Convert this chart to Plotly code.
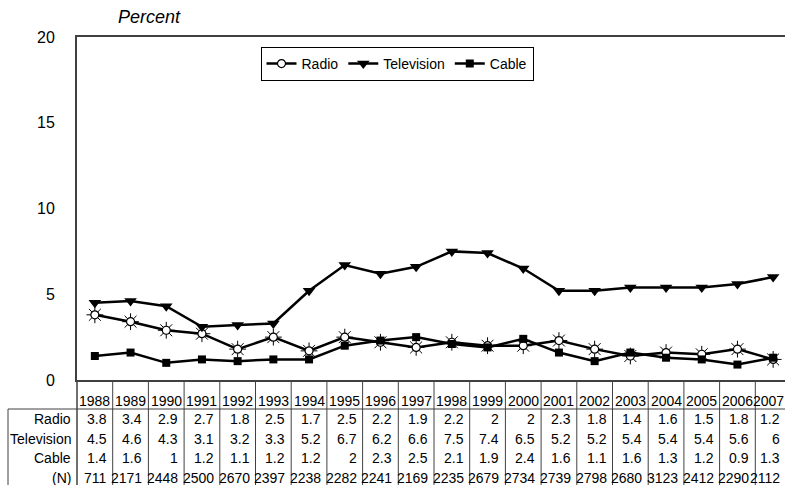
import plotly.graph_objects as go

# ---------------- data ----------------
years = [1988, 1989, 1990, 1991, 1992, 1993, 1994, 1995, 1996, 1997,
         1998, 1999, 2000, 2001, 2002, 2003, 2004, 2005, 2006, 2007]
radio = [3.8, 3.4, 2.9, 2.7, 1.8, 2.5, 1.7, 2.5, 2.2, 1.9,
         2.2, 2, 2, 2.3, 1.8, 1.4, 1.6, 1.5, 1.8, 1.2]
television = [4.5, 4.6, 4.3, 3.1, 3.2, 3.3, 5.2, 6.7, 6.2, 6.6,
              7.5, 7.4, 6.5, 5.2, 5.2, 5.4, 5.4, 5.4, 5.6, 6]
cable = [1.4, 1.6, 1, 1.2, 1.1, 1.2, 1.2, 2, 2.3, 2.5,
         2.1, 1.9, 2.4, 1.6, 1.1, 1.6, 1.3, 1.2, 0.9, 1.3]
n_values = [711, 2171, 2448, 2500, 2670, 2397, 2238, 2282, 2241, 2169,
            2235, 2679, 2734, 2739, 2798, 2680, 3123, 2412, 2290, 2112]
row_labels = ["Radio", "Television", "Cable", "(N)"]
y_ticks = [0, 5, 10, 15, 20]

# ---------------- layout constants (page pixels) ----------------
W, H = 785, 485
L, R, T, B = 77, 785, 37, 380   # plot area in page pixels
COLW = 35.7
FONT = "Liberation Sans, Arial, sans-serif"
LINE = "#404040"

x0 = years[0] - 0.5
x1 = x0 + (R - L) / COLW


def py(p):
    return (B - p) / (B - T)


def px(p):
    return (p - L) / (R - L)


fig = go.Figure()

# Radio rays (decoration under the circle marker)
fig.add_trace(go.Scatter(
    x=years, y=radio, mode="markers", showlegend=False, hoverinfo="skip",
    marker=dict(symbol="asterisk-open", size=14, color="black",
                line=dict(color="black", width=1)),
))
fig.add_trace(go.Scatter(
    x=years, y=radio, mode="lines+markers", name="Radio",
    line=dict(color="black", width=2.5),
    marker=dict(symbol="circle", size=8, color="white",
                line=dict(color="black", width=1.2)),
))
fig.add_trace(go.Scatter(
    x=years, y=television, mode="lines+markers", name="Television",
    line=dict(color="black", width=2.5),
    marker=dict(symbol="triangle-down", size=11, color="black"),
))
fig.add_trace(go.Scatter(
    x=years, y=cable, mode="lines+markers", name="Cable",
    line=dict(color="black", width=2.5),
    marker=dict(symbol="square", size=8, color="black"),
))

shapes = []
annotations = []

# table geometry (page pixels)
header_y = 401
header_line = 409
row_y = [419, 438.5, 458, 477.5]
table_bottom = 495
label_left = 8
pad = 4
year_text_half = 15.5

# vertical column lines
for yr in years:
    shapes.append(dict(type="line", xref="x", yref="paper",
                       x0=yr + 0.5, x1=yr + 0.5, y0=py(B), y1=py(table_bottom),
                       line=dict(color=LINE, width=1)))
shapes.append(dict(type="line", xref="paper", yref="paper",
                   x0=0, x1=0, y0=py(B), y1=py(table_bottom),
                   line=dict(color=LINE, width=1.5)))
# header bottom line
shapes.append(dict(type="line", xref="paper", yref="paper",
                   x0=px(label_left), x1=1, y0=py(header_line), y1=py(header_line),
                   line=dict(color=LINE, width=1)))
# label box left border
shapes.append(dict(type="line", xref="paper", yref="paper",
                   x0=px(label_left), x1=px(label_left),
                   y0=py(header_line), y1=py(table_bottom),
                   line=dict(color=LINE, width=1)))

# header years
for yr in years:
    center_px = L + (yr - x0) * COLW
    hshift = min(0, (W - 1 - year_text_half) - center_px)
    annotations.append(dict(x=yr, y=py(header_y), xref="x", yref="paper",
                            text=str(yr), showarrow=False, xanchor="center",
                            xshift=hshift, yanchor="middle",
                            font=dict(size=14, color="black", family=FONT)))

# row labels and values
rows = [radio, television, cable, n_values]
for lab, vals, ry in zip(row_labels, rows, row_y):
    annotations.append(dict(x=px(73), y=py(ry), xref="paper", yref="paper",
                            text=lab, showarrow=False, xanchor="right", yanchor="middle",
                            font=dict(size=14, color="black", family=FONT)))
    for yr, v in zip(years, vals):
        center_px = L + (yr - x0) * COLW
        shift = min(COLW / 2 - pad, (W - 3) - center_px)
        annotations.append(dict(x=yr, y=py(ry), xref="x", yref="paper",
                                text=f"{v:g}", showarrow=False, xanchor="right",
                                xshift=shift, yanchor="middle",
                                font=dict(size=14, color="black", family=FONT)))

# axis title
annotations.append(dict(x=px(116), y=py(17), xref="paper", yref="paper",
                        text="<i>Percent</i>", showarrow=False, xanchor="left",
                        yanchor="middle", font=dict(size=18, color="black", family=FONT)))

fig.update_layout(
    width=W, height=H,
    margin=dict(l=L, r=W - R, t=T, b=H - B, autoexpand=False),
    paper_bgcolor="white", plot_bgcolor="white",
    font=dict(family=FONT, color="black"),
    showlegend=True,
    legend=dict(orientation="h", x=px(397), xanchor="center", y=py(47), yanchor="top",
                bordercolor="black", borderwidth=1, bgcolor="white",
                font=dict(size=14, color="black", family=FONT),
                itemwidth=30, tracegroupgap=0),
    xaxis=dict(range=[x0, x1], showgrid=False, zeroline=False, showticklabels=False,
               ticks="", showline=True, linecolor=LINE, linewidth=2, mirror=True,
               fixedrange=True),
    yaxis=dict(range=[0, 20], tickvals=y_ticks, showgrid=False, zeroline=False,
               ticks="", showline=True, linecolor=LINE, linewidth=2,
               ticklabelstandoff=17,
               tickfont=dict(size=16, color="black", family=FONT), fixedrange=True),
    shapes=shapes,
    annotations=annotations,
)

fig.write_html(
    "out.html",
    config={"displayModeBar": False},
    post_script="document.body.style.margin='0';document.body.style.overflow='hidden';",
)
